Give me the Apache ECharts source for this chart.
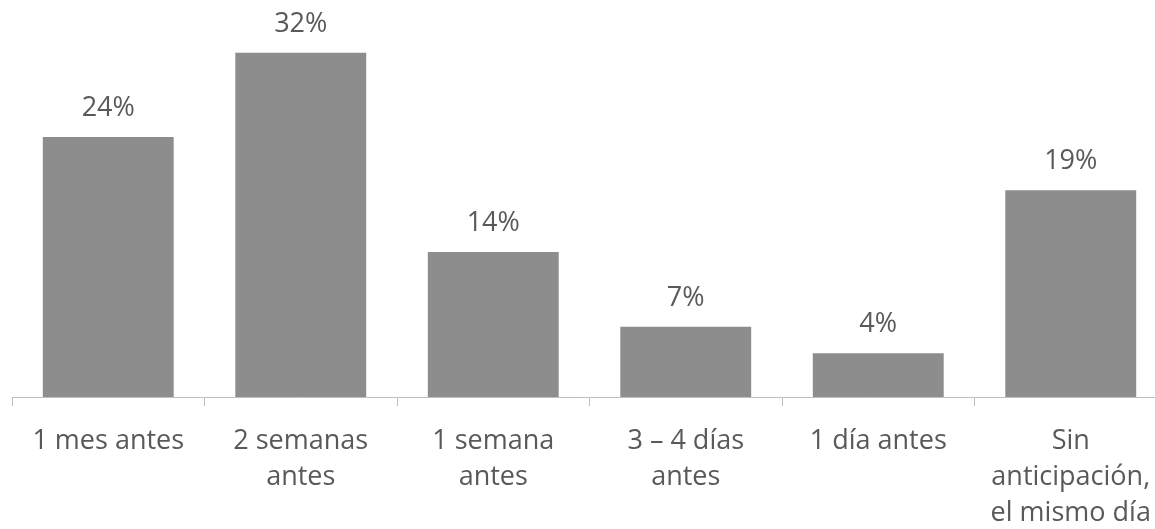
<!DOCTYPE html>
<html>
<head>
<meta charset="utf-8">
<script src="https://cdn.jsdelivr.net/npm/echarts@6/dist/echarts.min.js"></script>
<style>
  html, body { margin: 0; padding: 0; background: #fff; }
  #chart { width: 1155px; height: 529px; }
</style>
</head>
<body>
<div id="chart"></div>
<script>
var categories = [
  '1 mes antes',
  '2 semanas\nantes',
  '1 semana\nantes',
  '3 \u2013 4 días\nantes',
  '1 día antes',
  'Sin\nanticipación,\nel mismo día'
];
// porcentaje de respuestas
var values = [24.4, 32.3, 13.6, 6.6, 4.1, 19.4];

var chart = echarts.init(document.getElementById('chart'));
chart.setOption({
  animation: false,
  grid: { left: 12, top: 24, bottom: 132, right: -12, containLabel: false, outerBoundsMode: 'none' },
  xAxis: {
    type: 'category',
    data: categories,
    axisLine: { lineStyle: { color: '#bfbfbf', width: 1 } },
    axisTick: { show: true, length: 9, lineStyle: { color: '#bfbfbf' } },
    axisLabel: {
      interval: 0,
      margin: 26,
      color: '#595959',
      fontFamily: 'Open Sans',
      fontSize: 27,
      lineHeight: 36
    }
  },
  yAxis: {
    type: 'value',
    min: 0,
    max: 35,
    show: false
  },
  series: [
    {
      type: 'bar',
      data: values,
      barWidth: '68%',
      itemStyle: { color: '#8d8d8d' },
      label: {
        show: true,
        position: 'top',
        distance: 15,
        color: '#595959',
        fontFamily: 'Open Sans',
        fontSize: 27,
        formatter: function (p) { return Math.round(p.value) + '%'; }
      }
    }
  ]
});
</script>
</body>
</html>
